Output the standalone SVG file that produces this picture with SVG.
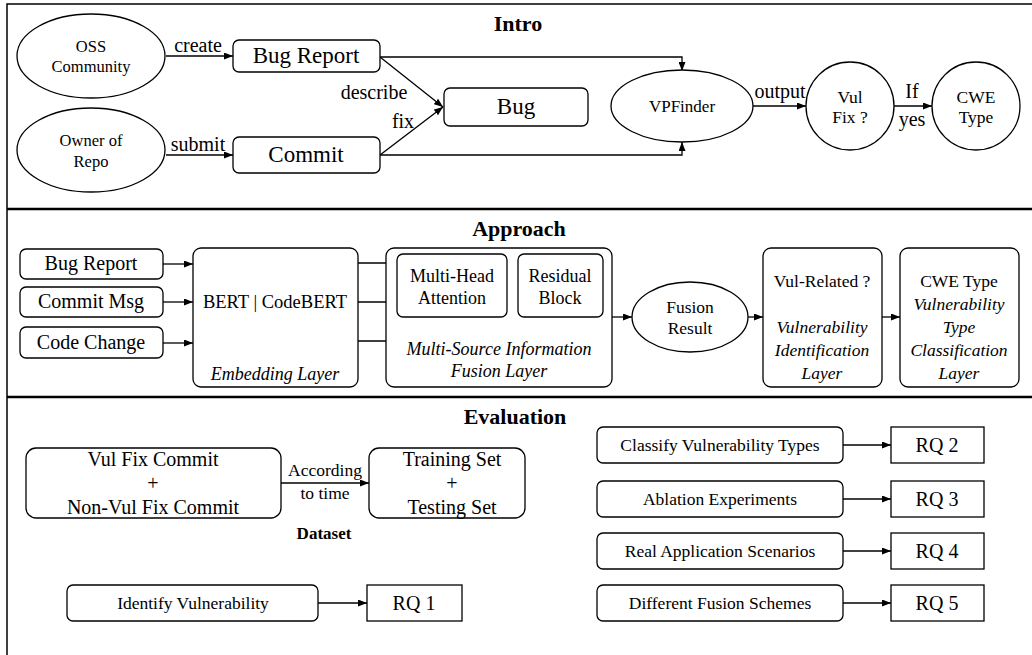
<svg xmlns="http://www.w3.org/2000/svg" width="1032" height="655" viewBox="0 0 1032 655" font-family="'Liberation Serif', 'Times New Roman', 'DejaVu Serif', serif">
<defs>
<marker id="arr" viewBox="0 0 9 7" refX="9" refY="3.5" markerWidth="9" markerHeight="7" markerUnits="userSpaceOnUse" orient="auto"><path d="M0,0 L9,3.5 L0,7 z" fill="#000"/></marker>
</defs>
<style>
text{font-family:'Liberation Serif','Times New Roman',serif;fill:#000;text-anchor:middle}
.t{font-weight:bold;font-size:22px}
.n{fill:#fff;stroke:#000;stroke-width:1.3}
.c{fill:none;stroke:#000;stroke-width:1.3;marker-end:url(#arr)}
.i{font-style:italic}
.div{stroke:#000;stroke-width:2.5;fill:none}
</style>
<rect width="1032" height="655" fill="#fff"/>
<path d="M7,655 V4 H1032" fill="none" stroke="#000" stroke-width="1.5"/>
<path class="div" d="M7,209 H1032 M7,397 H1032"/>

<g id="titles">
<text class="t" x="518" y="31">Intro</text>
<text class="t" x="519" y="236">Approach</text>
<text class="t" x="515" y="424">Evaluation</text>
</g>

<g id="connectors">
<path class="c" d="M166,56 H233"/>
<path class="c" d="M166,155 H233"/>
<path class="c" d="M380,57 L443,107"/>
<path class="c" d="M380,155 L443,107"/>
<path class="c" d="M380,57 H682 V71"/>
<path class="c" d="M380,155 H682 V142"/>
<path class="c" d="M753,106 H806"/>
<path class="c" d="M894,106 H932"/>
<path class="c" d="M163,264 H193"/>
<path class="c" d="M163,302 H193"/>
<path class="c" d="M163,343 H193"/>
<path class="c" d="M358,263 H397"/>
<path class="c" d="M358,302 H397"/>
<path class="c" d="M358,341 H452 V317"/>
<path class="c" d="M507,285 H518"/>
<path class="c" d="M612,317 H632"/>
<path class="c" d="M747,317 H763"/>
<path class="c" d="M882,317 H900"/>
<path class="c" d="M281,483 H369"/>
<path class="c" d="M318,603 H367"/>
<path class="c" d="M843,445 H891"/>
<path class="c" d="M843,499 H891"/>
<path class="c" d="M843,551 H891"/>
<path class="c" d="M843,603 H891"/>
</g>

<g id="labels">
<text x="198" y="52" font-size="20">create</text>
<text x="198" y="151" font-size="20">submit</text>
<text x="374" y="99" font-size="20">describe</text>
<text x="403" y="128" font-size="20">fix</text>
<text x="780" y="98" font-size="20">output</text>
<text x="912" y="98" font-size="20">If</text>
<text x="912" y="126" font-size="20">yes</text>
<text x="325" y="476" font-size="17.5">According</text>
<text x="325" y="499" font-size="17.5">to time</text>
<text x="324" y="539" font-size="17" font-weight="bold">Dataset</text>
</g>

<g id="oss"><ellipse class="n" cx="91" cy="56" rx="74" ry="42"/><text x="91" y="52" font-size="16.5">OSS</text><text x="91" y="72" font-size="16.5">Community</text></g>
<g id="owner"><ellipse class="n" cx="91" cy="150" rx="74" ry="42"/><text x="91" y="146" font-size="16.5">Owner of</text><text x="91" y="167" font-size="16.5">Repo</text></g>
<g id="bugreport1"><rect class="n" x="233" y="40" width="147" height="32" rx="6"/><text x="306" y="63" font-size="23">Bug Report</text></g>
<g id="commit1"><rect class="n" x="233" y="137" width="147" height="36" rx="6"/><text x="306" y="162" font-size="23">Commit</text></g>
<g id="bug"><rect class="n" x="444" y="88" width="144" height="38" rx="6"/><text x="516" y="114" font-size="23">Bug</text></g>
<g id="vpfinder"><ellipse class="n" cx="682" cy="106" rx="71" ry="36"/><text x="682" y="112" font-size="17">VPFinder</text></g>
<g id="vulfix"><circle class="n" cx="850" cy="106" r="44"/><text x="850" y="103" font-size="17.5">Vul</text><text x="850" y="123" font-size="17.5">Fix ?</text></g>
<g id="cwetype1"><circle class="n" cx="976" cy="106" r="44"/><text x="976" y="103" font-size="17.5">CWE</text><text x="976" y="123" font-size="17.5">Type</text></g>

<g id="bugreport2"><rect class="n" x="20" y="249" width="143" height="30" rx="6"/><text x="91" y="270" font-size="20">Bug Report</text></g>
<g id="commitmsg"><rect class="n" x="20" y="287" width="143" height="30" rx="6"/><text x="91" y="308" font-size="20">Commit Msg</text></g>
<g id="codechange"><rect class="n" x="20" y="327" width="143" height="31" rx="6"/><text x="91" y="349" font-size="20">Code Change</text></g>
<g id="bert"><rect class="n" x="193" y="248" width="165" height="139" rx="8"/><text x="275" y="308" font-size="18.5">BERT | CodeBERT</text><text class="i" x="275" y="380" font-size="18">Embedding Layer</text></g>
<g id="fusionlayer"><rect class="n" x="386" y="248" width="226" height="139" rx="8"/><text class="i" x="499" y="355" font-size="18">Multi-Source Information</text><text class="i" x="499" y="377" font-size="18">Fusion Layer</text></g>
<g id="mha"><rect class="n" x="397" y="254" width="110" height="63" rx="6"/><text x="452" y="282" font-size="18">Multi-Head</text><text x="452" y="304" font-size="18">Attention</text></g>
<g id="residual"><rect class="n" x="518" y="254" width="85" height="63" rx="6"/><text x="560" y="282" font-size="18">Residual</text><text x="560" y="304" font-size="18">Block</text></g>
<g id="fusionresult"><ellipse class="n" cx="690" cy="317" rx="58" ry="35"/><text x="690" y="313" font-size="17.5">Fusion</text><text x="690" y="334" font-size="17.5">Result</text></g>
<g id="vulrelated"><rect class="n" x="763" y="248" width="119" height="139" rx="8"/><text x="822" y="287" font-size="17.5">Vul-Related ?</text><text class="i" x="822" y="333" font-size="17.5">Vulnerability</text><text class="i" x="822" y="356" font-size="17.5">Identification</text><text class="i" x="822" y="379" font-size="17.5">Layer</text></g>
<g id="cwetype2"><rect class="n" x="900" y="248" width="119" height="139" rx="8"/><text x="959" y="287" font-size="17.5">CWE Type</text><text class="i" x="959" y="310" font-size="17.5">Vulnerability</text><text class="i" x="959" y="333" font-size="17.5">Type</text><text class="i" x="959" y="356" font-size="17.5">Classification</text><text class="i" x="959" y="379" font-size="17.5">Layer</text></g>

<g id="vulfixcommit"><rect class="n" x="26" y="448" width="255" height="70" rx="10"/><text x="153" y="466" font-size="20">Vul Fix Commit</text><text x="153" y="490" font-size="20">+</text><text x="153" y="514" font-size="20">Non-Vul Fix Commit</text></g>
<g id="trainingset"><rect class="n" x="369" y="448" width="156" height="70" rx="10"/><text x="452" y="466" font-size="20">Training Set</text><text x="452" y="490" font-size="20">+</text><text x="452" y="514" font-size="20">Testing Set</text></g>
<g id="identify"><rect class="n" x="67" y="585" width="251" height="36" rx="6"/><text x="193" y="609" font-size="17.5">Identify Vulnerability</text></g>
<g id="rq1"><rect class="n" x="367" y="585" width="95" height="36"/><text x="414" y="610" font-size="20">RQ 1</text></g>
<g id="classify"><rect class="n" x="597" y="427" width="246" height="36" rx="6"/><text x="720" y="451" font-size="17.5">Classify Vulnerability Types</text></g>
<g id="rq2"><rect class="n" x="891" y="427" width="93" height="36"/><text x="937" y="452" font-size="20">RQ 2</text></g>
<g id="ablation"><rect class="n" x="597" y="481" width="246" height="36" rx="6"/><text x="720" y="505" font-size="17.5">Ablation Experiments</text></g>
<g id="rq3"><rect class="n" x="891" y="481" width="93" height="36"/><text x="937" y="506" font-size="20">RQ 3</text></g>
<g id="realapp"><rect class="n" x="597" y="533" width="246" height="36" rx="6"/><text x="720" y="557" font-size="17.5">Real Application Scenarios</text></g>
<g id="rq4"><rect class="n" x="891" y="533" width="93" height="36"/><text x="937" y="558" font-size="20">RQ 4</text></g>
<g id="different"><rect class="n" x="597" y="585" width="246" height="36" rx="6"/><text x="720" y="609" font-size="17.5">Different Fusion Schemes</text></g>
<g id="rq5"><rect class="n" x="891" y="585" width="93" height="36"/><text x="937" y="610" font-size="20">RQ 5</text></g>
</svg>
